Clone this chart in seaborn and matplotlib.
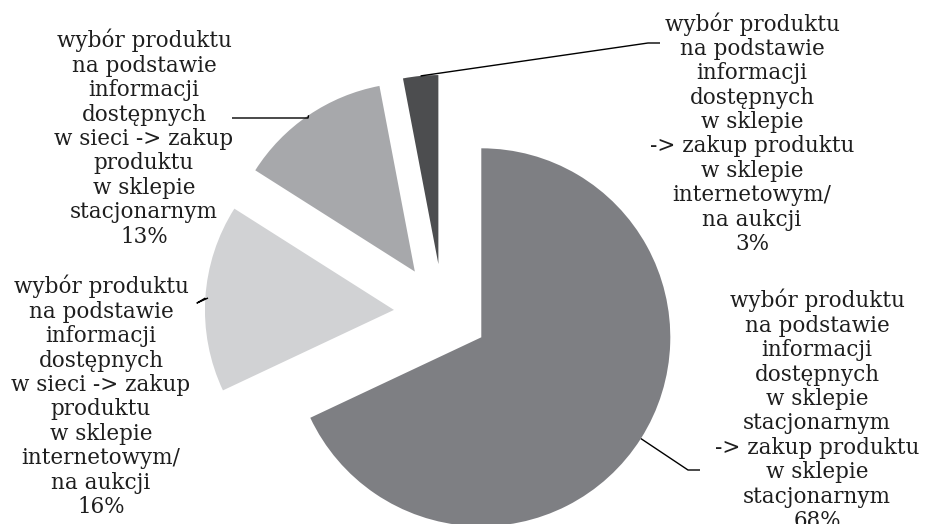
import numpy as np
import matplotlib
matplotlib.use("Agg")
import matplotlib.pyplot as plt
import seaborn as sns

# ---- data ----
labels = [
    "wybór produktu\nna podstawie\ninformacji\ndostępnych\nw sklepie\nstacjonarnym\n-> zakup produktu\nw sklepie\nstacjonarnym",
    "wybór produktu\nna podstawie\ninformacji\ndostępnych\nw sieci -> zakup\nproduktu\nw sklepie\ninternetowym/\nna aukcji",
    "wybór produktu\nna podstawie\ninformacji\ndostępnych\nw sieci -> zakup\nproduktu\nw sklepie\nstacjonarnym",
    "wybór produktu\nna podstawie\ninformacji\ndostępnych\nw sklepie\n-> zakup produktu\nw sklepie\ninternetowym/\nna aukcji",
]
values = [68, 16, 13, 3]
colors = ["#7e7f83", "#d1d2d4", "#a7a8ab", "#4c4d4f"]
explode_frac = [0.24, 0.26, 0.265, 0.26]

sns.set_theme(style="white")
plt.rcParams["font.family"] = ["DejaVu Serif"]

W, H = 927, 524
fig = plt.figure(figsize=(W / 100, H / 100), dpi=100)
ax = fig.add_axes([0, 0, 1, 1])

R = 189
wedges, _ = ax.pie(values, colors=colors, explode=[f * R for f in explode_frac],
                   startangle=90, counterclock=False, radius=R,
                   center=(443, H - 313), wedgeprops=dict(linewidth=0),
                   frame=True)
ax.set_xlim(0, W)
ax.set_ylim(0, H)
ax.set_aspect("equal")
ax.axis("off")


def mid(w):
    a = np.deg2rad((w.theta1 + w.theta2) / 2)
    cx, cy = w.center
    return cx + w.r * np.cos(a), cy + w.r * np.sin(a)


# label placement (pixel coords from top): (x_center, y_top, elbow, end)
place = [
    (817, 289, (688, 470), (700, 470)),
    (101, 275, (197, 303), (208, 298)),
    (144, 29, (308, 118), (232, 118)),
    (752, 12, (648, 43), (660, 43)),
]

for w, lab, v, (tx, ty, elbow, end) in zip(wedges, labels, values, place):
    mx, my = mid(w)
    ex, ey = elbow
    fx, fy = end
    ax.plot([mx, ex, fx], [my, H - ey, H - fy], color="black", lw=1.0,
            solid_capstyle="butt")
    ax.text(tx, H - ty, f"{lab}\n{v}%", ha="center", va="top",
            fontsize=15.5, linespacing=1.14, color="#1e1e1e")

fig.savefig("out.png", dpi=100)
